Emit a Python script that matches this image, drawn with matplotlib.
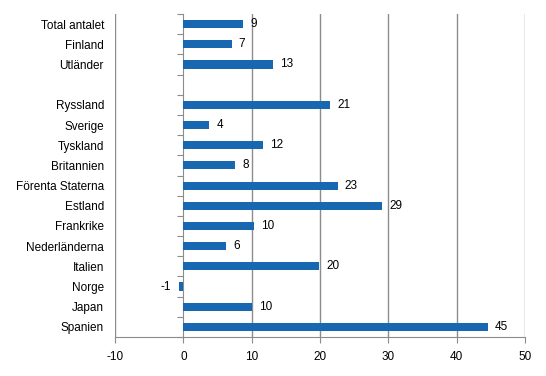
import matplotlib
matplotlib.use("Agg")
import matplotlib.pyplot as plt
import numpy as np

plt.rcParams['font.family'] = ['Liberation Sans', 'DejaVu Sans']

categories = ["Total antalet", "Finland", "Utländer", "", "Ryssland", "Sverige",
              "Tyskland", "Britannien", "Förenta Staterna", "Estland", "Frankrike",
              "Nederländerna", "Italien", "Norge", "Japan", "Spanien"]
values = [8.8, 7.1, 13.1, np.nan, 21.5, 3.8, 11.7, 7.6, 22.6, 29.1, 10.3, 6.3,
          19.9, -0.6, 10.0, 44.6]
labels = ["9", "7", "13", "", "21", "4", "12", "8", "23", "29", "10", "6",
          "20", "-1", "10", "45"]
xticks = [-10, 0, 10, 20, 30, 40, 50]

bar_color = "#1767B1"
grid_color = "#8C8C8C"
fs = 8.5

fig = plt.figure(figsize=(5.46, 3.76), dpi=100)
ax = fig.add_axes([115/546, 1 - 337/376, 410/546, 323/376])

n = len(categories)
y = np.arange(n)
vals = np.array(values, dtype=float)
ax.barh(y, np.nan_to_num(vals), height=0.4, color=bar_color, zorder=3)

ax.set_xlim(-10, 50)
ax.set_ylim(n - 0.5, -0.5)
ax.set_xticks(xticks)
ax.set_xticklabels([str(t) for t in xticks], fontsize=fs)
ax.set_yticks(y)
ax.set_yticklabels(categories, fontsize=fs)
ax.tick_params(axis='y', length=0, pad=8)
ax.tick_params(axis='x', length=4, color=grid_color, direction='out', pad=6)

for v in xticks:
    if v != 0:
        ax.axvline(v, color=grid_color, lw=1, zorder=1)

for s in ['top', 'right', 'left']:
    ax.spines[s].set_visible(False)
ax.spines['bottom'].set_color(grid_color)

# category axis at x=0 with boundary ticks
sec = ax.secondary_yaxis(10/60)
sec.set_yticks(np.arange(n + 1) - 0.5)
sec.set_yticklabels([])
sec.tick_params(axis='y', length=4, color=grid_color, direction='out')
sec.spines['left'].set_color(grid_color)

for yi, v, lab in zip(y, vals, labels):
    if np.isnan(v):
        continue
    if v >= 0:
        ax.annotate(lab, (v, yi), xytext=(5, 0), textcoords='offset points',
                    ha='left', va='center', fontsize=fs)
    else:
        ax.annotate(lab, (v, yi), xytext=(-6, 0), textcoords='offset points',
                    ha='right', va='center', fontsize=fs)

fig.savefig("out.png", dpi=100)
